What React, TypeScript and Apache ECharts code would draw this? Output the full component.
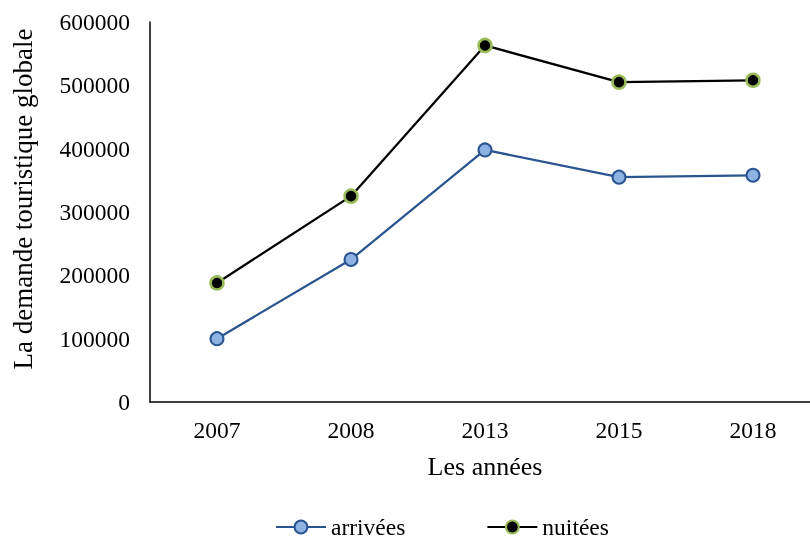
import React, { useEffect, useRef } from "react";
import * as echarts from "echarts";

const categories = ["2007", "2008", "2013", "2015", "2018"];
const arrivees = [100000, 225000, 398000, 355000, 358000];
const nuitees = [188000, 325000, 563000, 505000, 508000];

export default function App() {
  const ref = useRef<HTMLDivElement>(null);
  useEffect(() => {
    if (!ref.current) return;
    const chart = echarts.init(ref.current, null, { renderer: "svg" });
    const font = "Liberation Serif";
    chart.setOption({
      animation: false,
      textStyle: { fontFamily: font },
      grid: { left: 150, top: 22, width: 670, height: 380 },
      legend: {
        top: 510,
        left: 270,
        itemWidth: 50,
        itemHeight: 16,
        itemGap: 81,
        textStyle: { fontFamily: font, fontSize: 23.5, color: "#000" },
        data: ["arrivées", "nuitées"],
      },
      xAxis: {
        type: "category",
        data: categories,
        name: "Les années",
        nameLocation: "middle",
        nameGap: 51,
        nameTextStyle: { fontFamily: font, fontSize: 26, color: "#000" },
        axisLine: { lineStyle: { color: "#000", width: 1.5 } },
        axisTick: { show: false },
        axisLabel: { margin: 16, fontFamily: font, fontSize: 23.5, color: "#000" },
      },
      yAxis: {
        type: "value",
        min: 0,
        max: 600000,
        interval: 100000,
        name: "La demande touristique globale",
        nameLocation: "middle",
        nameGap: 114,
        nameTextStyle: { fontFamily: font, fontSize: 27, color: "#000", padding: [0, 0, 0, 26] },
        axisLine: { show: true, lineStyle: { color: "#000", width: 1.5 } },
        axisTick: { show: false },
        splitLine: { show: false },
        axisLabel: {
          margin: 20,
          fontFamily: font,
          fontSize: 23.5,
          color: "#000",
          formatter: (v: number) => String(v),
        },
      },
      series: [
        {
          name: "arrivées",
          type: "line",
          data: arrivees,
          symbol: "circle",
          symbolSize: 13,
          lineStyle: { color: "#2a5590", width: 2.25 },
          itemStyle: { color: "#8db3e2", borderColor: "#2a5590", borderWidth: 2 },
        },
        {
          name: "nuitées",
          type: "line",
          data: nuitees,
          symbol: "circle",
          symbolSize: 13,
          lineStyle: { color: "#000", width: 2.25 },
          itemStyle: { color: "#000", borderColor: "#9bbb59", borderWidth: 2.5 },
        },
      ],
    });
    return () => chart.dispose();
  }, []);
  return (
    <div
      ref={ref}
      style={{ position: "fixed", left: 0, top: 0, width: 830, height: 541 }}
    />
  );
}
